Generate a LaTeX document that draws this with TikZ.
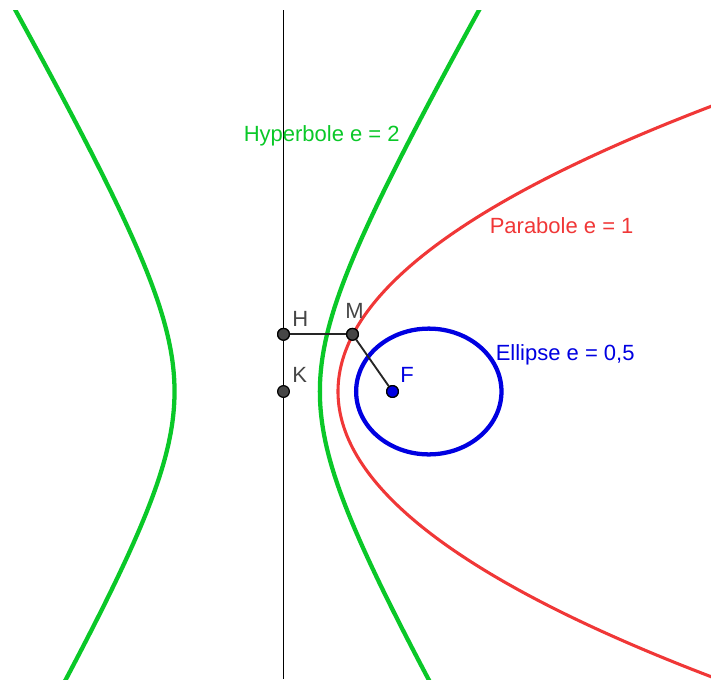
\documentclass[tikz,border=0pt]{standalone}
\usepackage{fontspec}
\setmainfont{Liberation Sans}
\definecolor{hgreen}{RGB}{10,200,40}
\definecolor{pred}{RGB}{240,55,55}
\definecolor{eblue}{RGB}{0,0,225}
\definecolor{ptgray}{RGB}{70,70,70}
\begin{document}
\begin{tikzpicture}[x=0.75pt,y=-0.75pt,
  pt/.style={circle,draw=black,line width=0.9pt,fill=ptgray,inner sep=0pt,minimum size=8.8pt},
  ptblue/.style={pt,fill=eblue},
  lbl/.style={anchor=base west,inner sep=0pt,font=\fontsize{16.5}{20}\selectfont},
  hyp/.style={hgreen,line width=3.2pt},
  par/.style={pred,line width=2.3pt},
  ell/.style={eblue,line width=3.2pt},
  seg/.style={black!85,line width=1.4pt},
  dirline/.style={black,line width=1.1pt}]
\useasboundingbox (0,0) rectangle (711,679);
\begin{scope}
\clip (0,10) rectangle (711,679);
% hyperbola e = 2
\draw[hyp] plot[variable=\t,domain=-1.84:1.58,samples=120,smooth]
  ({247.2+72.67*cosh(\t)},{391.5+125.9*sinh(\t)});
\draw[hyp] plot[variable=\t,domain=-1.84:1.58,samples=120,smooth]
  ({247.2-72.67*cosh(\t)},{391.5+125.9*sinh(\t)});
% parabola e = 1
\draw[par] plot[variable=\t,domain=-29.5:29.5,samples=150,smooth]
  ({338+\t*\t*0.4587},{391.5+10*\t});
\end{scope}
% ellipse e = 0.5
\draw[ell] (428.8,391.5) ellipse [x radius=72.67,y radius=62.9];
% directrix
\coordinate (dtop) at (283.5,10);
\coordinate (dbot) at (283.5,679);
\draw[dirline] (dtop) -- (dbot);
% points
\node[pt] (H) at (283.5,334.3) {};
\node[pt] (K) at (283.5,391.5) {};
\node[pt] (M) at (352.5,334.3) {};
\node[ptblue] (F) at (392.5,391.5) {};
\draw[seg] (H) -- (M);
\draw[seg] (M) -- (F);
\node[pt] at (H) {};
\node[pt] at (M) {};
\node[ptblue] at (F) {};
% labels
\node[lbl,text=ptgray] (lH) at (292,326) {H};
\node[lbl,text=ptgray] (lM) at (345,318) {M};
\node[lbl,text=ptgray] (lK) at (292,382) {K};
\node[lbl,text=eblue] (lF) at (400,382) {F};
\node[lbl,text=hgreen] (lhyp) at (243.5,141) {Hyperbole e = 2};
\node[lbl,text=pred] (lpar) at (489.5,233) {Parabole e = 1};
\node[lbl,text=eblue] (lell) at (495.5,360) {Ellipse e = 0,5};
\end{tikzpicture}
\end{document}
